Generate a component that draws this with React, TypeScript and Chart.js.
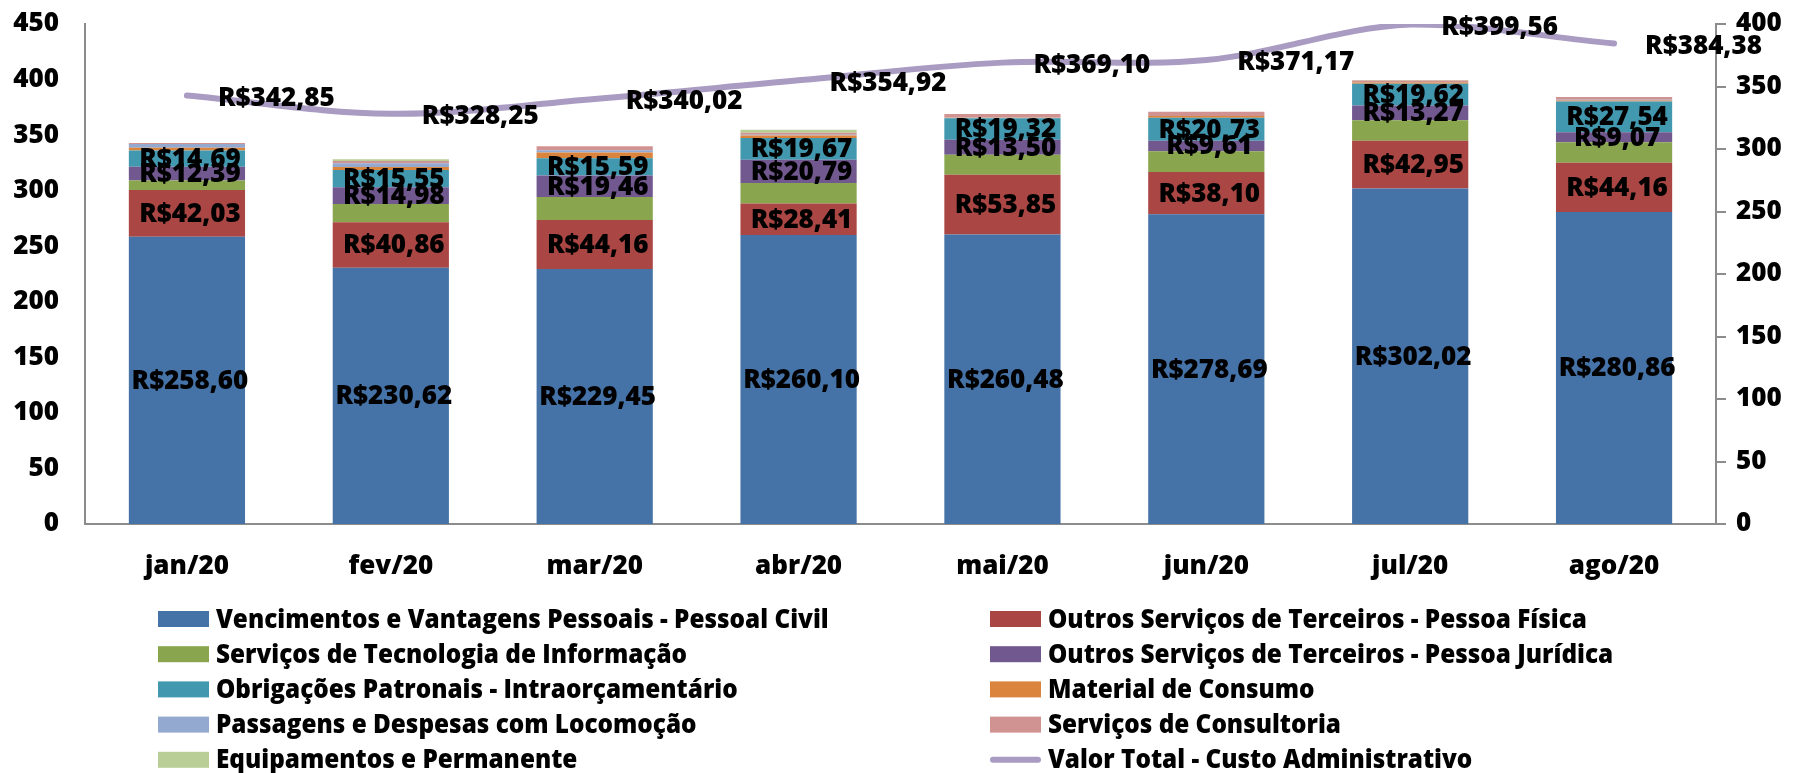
import React, { useEffect, useRef } from 'react';
import { Chart, registerables } from 'chart.js';

Chart.register(...registerables);

const FONT = '"Open Sans", "Noto Sans", sans-serif';

const months = ['jan/20', 'fev/20', 'mar/20', 'abr/20', 'mai/20', 'jun/20', 'jul/20', 'ago/20'];

const vencimentos = [258.60, 230.62, 229.45, 260.10, 260.48, 278.69, 302.02, 280.86];
const outrosPF = [42.03, 40.86, 44.16, 28.41, 53.85, 38.10, 42.95, 44.16];
const tecnologia = [8.5, 16.6, 20.6, 18.45, 18.1, 18.6, 18.4, 18.55];
const outrosPJ = [12.39, 14.98, 19.46, 20.79, 13.50, 9.61, 13.27, 9.07];
const obrigacoes = [14.69, 15.55, 15.59, 19.67, 19.32, 20.73, 19.62, 27.54];
const material = [2.5, 2.7, 5.1, 2.2, 0.3, 1.5, 1.0, 1.0];
const passagens = [3.3, 3.3, 2.1, 0.8, 0.2, 0.0, 0.0, 0.7];
const consultoria = [0.8, 2.1, 3.5, 1.8, 3.3, 3.9, 2.0, 2.5];
const equipamentos = [0.1, 1.5, 0.1, 2.7, 0.0, 0.0, 0.3, 0.0];
const valorTotal = [342.85, 328.25, 340.02, 354.92, 369.10, 371.17, 399.56, 384.38];

const leftTicksMax = 450;
const rightTicksMax = 400;
const tickStep = 50;

const barSeries = [
  { label: 'Vencimentos e Vantagens Pessoais - Pessoal Civil', data: vencimentos, color: '#4572A7', labeled: true },
  { label: 'Outros Serviços de Terceiros - Pessoa Física', data: outrosPF, color: '#AA4643', labeled: true },
  { label: 'Serviços de Tecnologia de Informação', data: tecnologia, color: '#89A54E', labeled: false },
  { label: 'Outros Serviços de Terceiros - Pessoa Jurídica', data: outrosPJ, color: '#71588F', labeled: true },
  { label: 'Obrigações Patronais - Intraorçamentário', data: obrigacoes, color: '#4198AF', labeled: true },
  { label: 'Material de Consumo', data: material, color: '#DB843D', labeled: false },
  { label: 'Passagens e Despesas com Locomoção', data: passagens, color: '#93A9CF', labeled: false },
  { label: 'Serviços de Consultoria', data: consultoria, color: '#D19392', labeled: false },
  { label: 'Equipamentos e Permanente', data: equipamentos, color: '#B9CD96', labeled: false },
];
const lineLabel = 'Valor Total - Custo Administrativo';
const lineColor = '#A99BC2';

const fmt = (v: number) => 'R$' + v.toFixed(2).replace('.', ',');

const valueLabels = {
  id: 'valueLabels',
  afterDatasetsDraw(chart: any) {
    const ctx = chart.ctx;
    ctx.save();
    ctx.font = `800 26px ${FONT}`;
    ctx.fillStyle = '#000';
    ctx.textAlign = 'center';
    ctx.textBaseline = 'middle';
    barSeries.forEach((s, di) => {
      if (!s.labeled) return;
      const meta = chart.getDatasetMeta(di);
      meta.data.forEach((el: any, i: number) => {
        ctx.fillText(fmt(s.data[i]), el.x + 3, (el.y + el.base) / 2 + 1);
      });
    });
    const lm = chart.getDatasetMeta(barSeries.length);
    ctx.textAlign = 'left';
    lm.data.forEach((pt: any, i: number) => {
      ctx.fillText(fmt(valorTotal[i]), pt.x + 31, pt.y + 3);
    });
    ctx.restore();
  },
};

const customLegend = {
  id: 'customLegend',
  afterDraw(chart: any) {
    const ctx = chart.ctx;
    ctx.save();
    const items = [
      ...barSeries.map((s) => ({ label: s.label, color: s.color, line: false })),
      { label: lineLabel, color: lineColor, line: true },
    ];
    items.forEach((it, i) => {
      const col = i % 2;
      const row = Math.floor(i / 2);
      const bx = col === 0 ? 158 : 990;
      const cy = 619 + row * 35.2;
      if (it.line) {
        ctx.strokeStyle = it.color;
        ctx.lineWidth = 6;
        ctx.lineCap = 'round';
        ctx.beginPath();
        ctx.moveTo(bx + 3, cy);
        ctx.lineTo(bx + 48, cy);
        ctx.stroke();
      } else {
        ctx.fillStyle = it.color;
        ctx.fillRect(bx, cy - 8, 51, 16);
      }
      ctx.save();
      ctx.translate(bx + 58, cy + 1);
      ctx.scale(0.9, 1);
      ctx.font = `800 27px ${FONT}`;
      ctx.fillStyle = '#000';
      ctx.textAlign = 'left';
      ctx.textBaseline = 'middle';
      ctx.fillText(it.label, 0, 0);
      ctx.restore();
    });
    ctx.restore();
  },
};

export default function App() {
  const ref = useRef<HTMLCanvasElement>(null);
  useEffect(() => {
    if (!ref.current) return;
    const tickFont = { family: FONT, size: 26, weight: 800 as any };
    const chart = new Chart(ref.current, {
      type: 'bar',
      data: {
        labels: months,
        datasets: [
          ...barSeries.map((s) => ({
            type: 'bar' as const,
            label: s.label,
            data: s.data,
            backgroundColor: s.color,
            borderWidth: 0,
            yAxisID: 'y',
            stack: 'custos',
            order: 2,
            categoryPercentage: 1,
            barPercentage: 0.57,
          })),
          {
            type: 'line' as const,
            label: lineLabel,
            data: valorTotal,
            borderColor: lineColor,
            backgroundColor: lineColor,
            borderWidth: 6,
            pointRadius: 0,
            tension: 0.35,
            yAxisID: 'y1',
            order: 1,
            borderCapStyle: 'round' as const,
          } as any,
        ],
      },
      options: {
        animation: false,
        responsive: true,
        maintainAspectRatio: false,
        devicePixelRatio: 1,
        layout: { padding: { top: 24, left: 0, right: 0, bottom: 179 } },
        plugins: {
          legend: { display: false },
          tooltip: { enabled: false },
        },
        scales: {
          x: {
            stacked: true,
            grid: { display: false, drawTicks: false },
            border: { display: true, color: '#8c8c8c', width: 2 },
            ticks: { font: tickFont, color: '#000', padding: 27 },
            afterFit: (s: any) => { s.height = 70; },
          },
          y: {
            stacked: true,
            min: 0,
            max: leftTicksMax,
            position: 'left',
            grid: { display: false, drawTicks: false },
            border: { display: true, color: '#8c8c8c', width: 2 },
            ticks: { stepSize: tickStep, font: tickFont, color: '#000', padding: 26 },
            afterFit: (s: any) => { s.width = 85; s.paddingTop = 0; s.paddingBottom = 0; },
          },
          y1: {
            min: 0,
            max: rightTicksMax,
            position: 'right',
            grid: { drawOnChartArea: false, drawTicks: true, tickLength: 10, color: '#8c8c8c', lineWidth: 2 },
            border: { display: true, color: '#8c8c8c', width: 2 },
            ticks: { stepSize: tickStep, font: tickFont, color: '#000', padding: 10 },
            afterFit: (s: any) => { s.width = 77; s.paddingTop = 0; s.paddingBottom = 0; },
          },
        },
      },
      plugins: [valueLabels, customLegend],
    });
    return () => chart.destroy();
  }, []);
  return (
    <div style={{ position: 'fixed', left: 0, top: 0, width: 1793, height: 773, background: '#fff' }}>
      <canvas ref={ref} />
    </div>
  );
}
